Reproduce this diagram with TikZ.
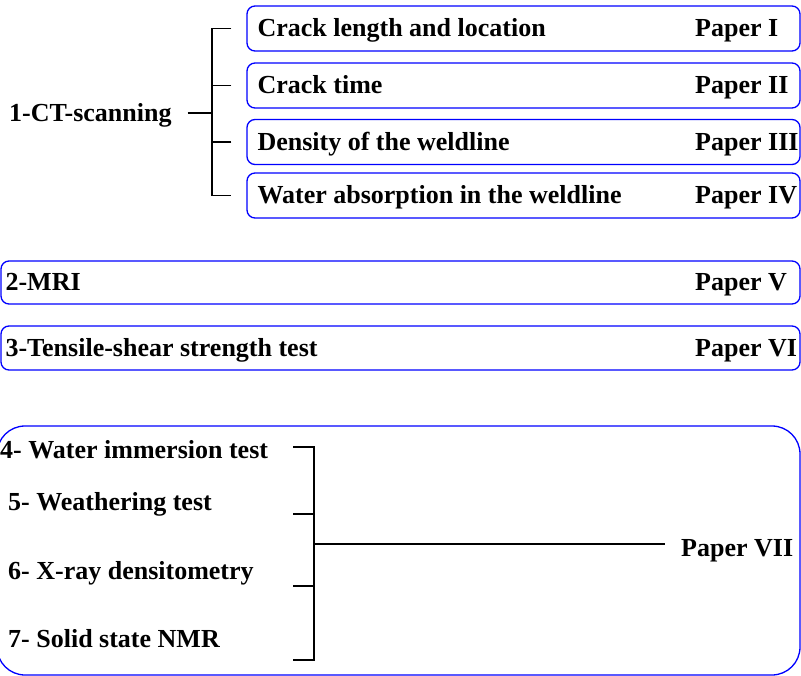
\documentclass[tikz,border=0pt]{standalone}
\usepackage{fontspec}
\setmainfont{Liberation Serif}
\usepackage{tikz}
\usetikzlibrary{positioning}
\definecolor{boxblue}{RGB}{0, 0, 255}
\tikzstyle{paperbox} = [rectangle, draw=boxblue, line width=1.3pt, rounded corners=8pt, minimum height=45pt, inner sep=0pt]
\tikzstyle{textonly} = [draw=none, fill=none, inner sep=0pt, font=\fontsize{26}{30}\selectfont\bfseries, text height=17pt, text depth=0pt]
\tikzstyle{bracket} = [draw, line width=1.1pt, black]

\begin{document}
\begin{tikzpicture}[x=1pt, y=-1pt]
\useasboundingbox (0,0) rectangle (801,676);

% 1 - CT scanning =============================
\node[textonly, anchor=west] (ct) at (9,113) {1-CT-scanning};
\node[paperbox, minimum width=553pt] (crackloc) at (523.5,28.5) {};
\node[paperbox, minimum width=553pt] (cracktime) at (523.5,85.5) {};
\node[paperbox, minimum width=553pt] (density) at (523.5,142) {};
\node[paperbox, minimum width=553pt] (absorp) at (523.5,195.5) {};
\node[textonly, right=11pt of crackloc.west] (crackloc-t) {Crack length and location};
\node[textonly, right=11pt of cracktime.west] (cracktime-t) {Crack time};
\node[textonly, right=11pt of density.west] (density-t) {Density of the weldline};
\node[textonly, right=11pt of absorp.west] (absorp-t) {Water absorption in the weldline};
\node[textonly, anchor=west] (p1) at (695,28.5) {Paper I};
\node[textonly, anchor=west] (p2) at (695,85.5) {Paper II};
\node[textonly, anchor=west] (p3) at (695,142) {Paper III};
\node[textonly, anchor=west] (p4) at (695,195.5) {Paper IV};
\coordinate (hub1) at (212,113);

% edges
\draw[bracket] ([xshift=-15pt]crackloc.west) -| (hub1) |- ([xshift=-15pt]absorp.west);
\draw[bracket] ([xshift=-15pt]cracktime.west) -- (cracktime.west -| hub1);
\draw[bracket] ([xshift=-15pt]density.west) -- (density.west -| hub1);
\draw[bracket] ([xshift=16pt]ct.east) -- (hub1);

% 2 - MRI, 3 - tensile =========================
\node[paperbox, minimum width=799pt, minimum height=43pt] (mri) at (400.5,282.5) {};
\node[textonly, right=5pt of mri.west] (mri-t) {2-MRI};
\node[textonly, anchor=west] (p5) at (695,282.5) {Paper V};
\node[paperbox, minimum width=799pt, minimum height=44pt] (tensile) at (400.5,348) {};
\node[textonly, right=5pt of tensile.west] (tensile-t) {3-Tensile-shear strength test};
\node[textonly, anchor=west] (p6) at (695,348) {Paper VI};

% 4 to 7 ========================================
\node[paperbox, rounded corners=28pt, minimum width=803pt, minimum height=249pt] (aging) at (398.5,550.5) {};
\node[textonly, anchor=west] (immersion) at (0,450) {4- Water immersion test};
\node[textonly, anchor=west] (weather) at (8,502) {5- Weathering test};
\node[textonly, anchor=west] (xray) at (8,571) {6- X-ray densitometry};
\node[textonly, anchor=west] (nmr) at (8,639) {7- Solid state NMR};
\node[textonly, anchor=west] (p7) at (681,548) {Paper VII};
\coordinate (t4) at (293,447);
\coordinate (t5) at (293,514);
\coordinate (t6) at (293,586);
\coordinate (t7) at (293,660);
\coordinate (hub2) at (314,544);

% edges
\draw[bracket] (t4) -| (hub2) |- (t7);
\draw[bracket] (t5) -- (t5 -| hub2);
\draw[bracket] (t6) -- (t6 -| hub2);
\draw[bracket, shorten >=16pt] (hub2) -- (hub2 -| p7.west);

\end{tikzpicture}
\end{document}
